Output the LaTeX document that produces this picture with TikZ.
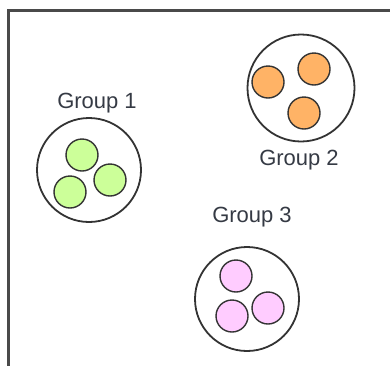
\documentclass[tikz,border=0pt]{standalone}
\usepackage{fontspec}
\setmainfont{Liberation Sans}
\definecolor{linegray}{HTML}{333333}
\definecolor{framegray}{HTML}{4A4A4A}
\definecolor{textgray}{HTML}{353A44}
\definecolor{greenfill}{HTML}{CCFF99}
\definecolor{orangefill}{HTML}{FFB366}
\definecolor{pinkfill}{HTML}{FFCCFF}
\begin{document}
\begin{tikzpicture}[x=1pt,y=-1pt,
  group/.style={circle,draw=linegray,line width=1.8pt,minimum size=104pt,inner sep=0pt},
  member/.style={circle,draw=linegray,line width=1.4pt,minimum size=32pt,inner sep=0pt},
  label/.style={font=\fontsize{22}{26}\selectfont,text=textgray,inner sep=0pt}]
\useasboundingbox (0,0) rectangle (390,365);
% frame (open at the right and bottom)
\draw[framegray,line width=2.4pt] (8.5,370) -- (8.5,10.5) -- (395,10.5);

% Group 1
\node[group] (g1) at (89,170) {};
\node[member,fill=greenfill] (g1a) at (82,155) {};
\node[member,fill=greenfill] (g1b) at (110,180) {};
\node[member,fill=greenfill] (g1c) at (70,192) {};
\node[label] (l1) at (97,103) {Group 1};

% Group 2
\node[group,minimum size=107pt] (g2) at (301,88) {};
\node[member,fill=orangefill] (g2a) at (268,82) {};
\node[member,fill=orangefill] (g2b) at (314,69) {};
\node[member,fill=orangefill] (g2c) at (304,113) {};
\node[label] (l2) at (299,160) {Group 2};

% Group 3
\node[group] (g3) at (247,299) {};
\node[member,fill=pinkfill] (g3a) at (236,276) {};
\node[member,fill=pinkfill] (g3b) at (232,316) {};
\node[member,fill=pinkfill] (g3c) at (268,308) {};
\node[label] (l3) at (252,217) {Group 3};
\end{tikzpicture}
\end{document}
